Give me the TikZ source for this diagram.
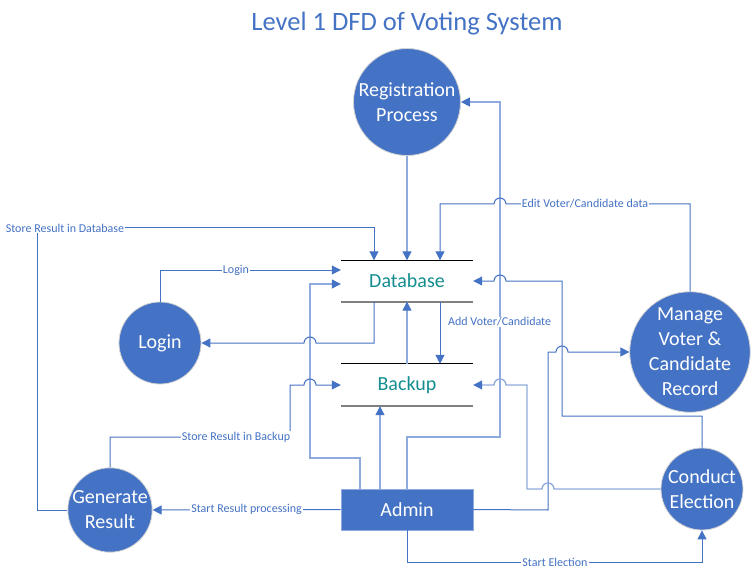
\documentclass[tikz,border=0pt]{standalone}
\usepackage{fontspec}
\setmainfont{Carlito}
\usetikzlibrary{arrows.meta,positioning,calc}
\definecolor{dfdblue}{HTML}{4472C4}
\definecolor{dfdlight}{HTML}{8FAADC}
\definecolor{storeteal}{HTML}{138D90}

\begin{document}
\begin{tikzpicture}[x=1pt,y=-1pt]
\tikzset{process/.style={circle,fill=dfdblue,draw=gray!35,line width=0.8pt,text=white,align=center,inner sep=0pt,font=\fontsize{20}{25}\selectfont}}
\tikzset{entity/.style={rectangle,fill=dfdblue,draw=dfdlight,line width=0.8pt,text=white,minimum width=132pt,minimum height=41pt,font=\fontsize{20}{25}\selectfont}}
\tikzset{store/.style={minimum width=132pt,inner sep=0pt,text=storeteal,font=\fontsize{20}{25}\selectfont}}
\tikzset{flow/.style={draw=dfdblue,line width=1pt,-{Triangle[length=9pt,width=9pt,color=dfdblue]}}}
\tikzset{flowlt/.style={flow,draw=dfdlight,line width=1.3pt}}
\tikzset{lbl/.style={fill=white,inner sep=1pt,text=dfdblue,font=\fontsize{12}{14}\selectfont}}
\useasboundingbox (0,0) rectangle (753,575);

\node[text=dfdblue,font=\fontsize{26.5}{31}\selectfont] (title) at (407,24) {Level 1 DFD of Voting System};

% processes, entity and stores
\node[process,minimum size=107pt] (reg) at (407,102) {Registration\\Process};
\node[process,minimum size=82pt] (login) at (160,343) {Login};
\node[process,minimum size=84pt] (gen) at (110,510) {Generate\\Result};
\node[process,minimum size=82pt] (conduct) at (702,489) {Conduct\\Election};
\node[process,minimum size=106pt] (manage) at (690,352) {Manage\\Voter \&\\Candidate\\Record};
\node[entity] (admin) at (407,509.5) {Admin};
\node[store,minimum height=41pt] (db) at (407,281) {Database};
\node[store,minimum height=42pt] (bk) at (407,385) {Backup};
\draw[black,line width=1pt] (db.north west) -- (db.north east);
\draw[gray,line width=1.6pt] (db.south west) -- (db.south east);
\draw[black,line width=1pt] (bk.north west) -- (bk.north east);
\draw[gray,line width=1.6pt] (bk.south west) -- (bk.south east);

% flows
\draw[flowlt] (reg.south) -- (db.north);
\draw[flowlt] (admin.north) |- (500,437) |- (reg.east);
\draw[flowlt] ([xshift=-27pt]admin.north) -- ([xshift=-27pt]bk.south);
\draw[flowlt] ([xshift=-47pt]admin.north) |- (310,458) |- ([yshift=-3pt]db.west);
\draw[flowlt] (bk.north) -- (db.south);
\draw[flow] ([xshift=-33pt]db.south) |- (316,343) arc[start angle=0,end angle=-180,radius=6] -- (login.east);
\draw[flow] (login.north) |- ([yshift=11pt]db.west) node[lbl,pos=0.71] (lblLogin) {Login};
\draw[flow] (gen.west) -- (37,510) |- (374,228) -- ([xshift=-33pt]db.north);
\node[lbl] (lblStoreDb) at (65,228) {Store Result in Database};
\draw[flow] (gen.north) |- (290,437) -- (290,385) -- (304,385) arc[start angle=180,end angle=360,radius=6] -- (bk.west);
\node[lbl] (lblStoreBk) at (236,437) {Store Result in Backup};
\draw[flow] (admin.west) -- (gen.east) node[lbl,pos=0.5] (lblStart) {Start Result processing};
\draw[flow] (admin.south) |- (702,562) -- (conduct.south);
\node[lbl] (lblElect) at (555,562) {Start Election};
\draw[flow] (admin.east) -- (548,510) -- (548,352) -- (556,352) arc[start angle=180,end angle=360,radius=6] -- (manage.west);
\draw[flowlt] (conduct.west) -- (554,489) arc[start angle=0,end angle=-180,radius=6] -- (527,489) -- (527,385) -- (506,385) arc[start angle=0,end angle=-180,radius=6] -- (bk.east);
\draw[flow] (conduct.north) |- (562,416) -- (562,281) -- (506,281) arc[start angle=0,end angle=-180,radius=6] -- (db.east);
\draw[flow] (manage.north) |- (506,204) arc[start angle=0,end angle=-180,radius=6] -- (440,204) -- ([xshift=33pt]db.north);
\node[lbl] (lblEdit) at (585,204) {Edit Voter/Candidate data};
\draw[flow] ([xshift=33pt]db.south) -- ([xshift=33pt]bk.north);
\node[lbl,anchor=west] (lblAdd) at (447,322) {Add Voter/Candidate};
\end{tikzpicture}
\end{document}
